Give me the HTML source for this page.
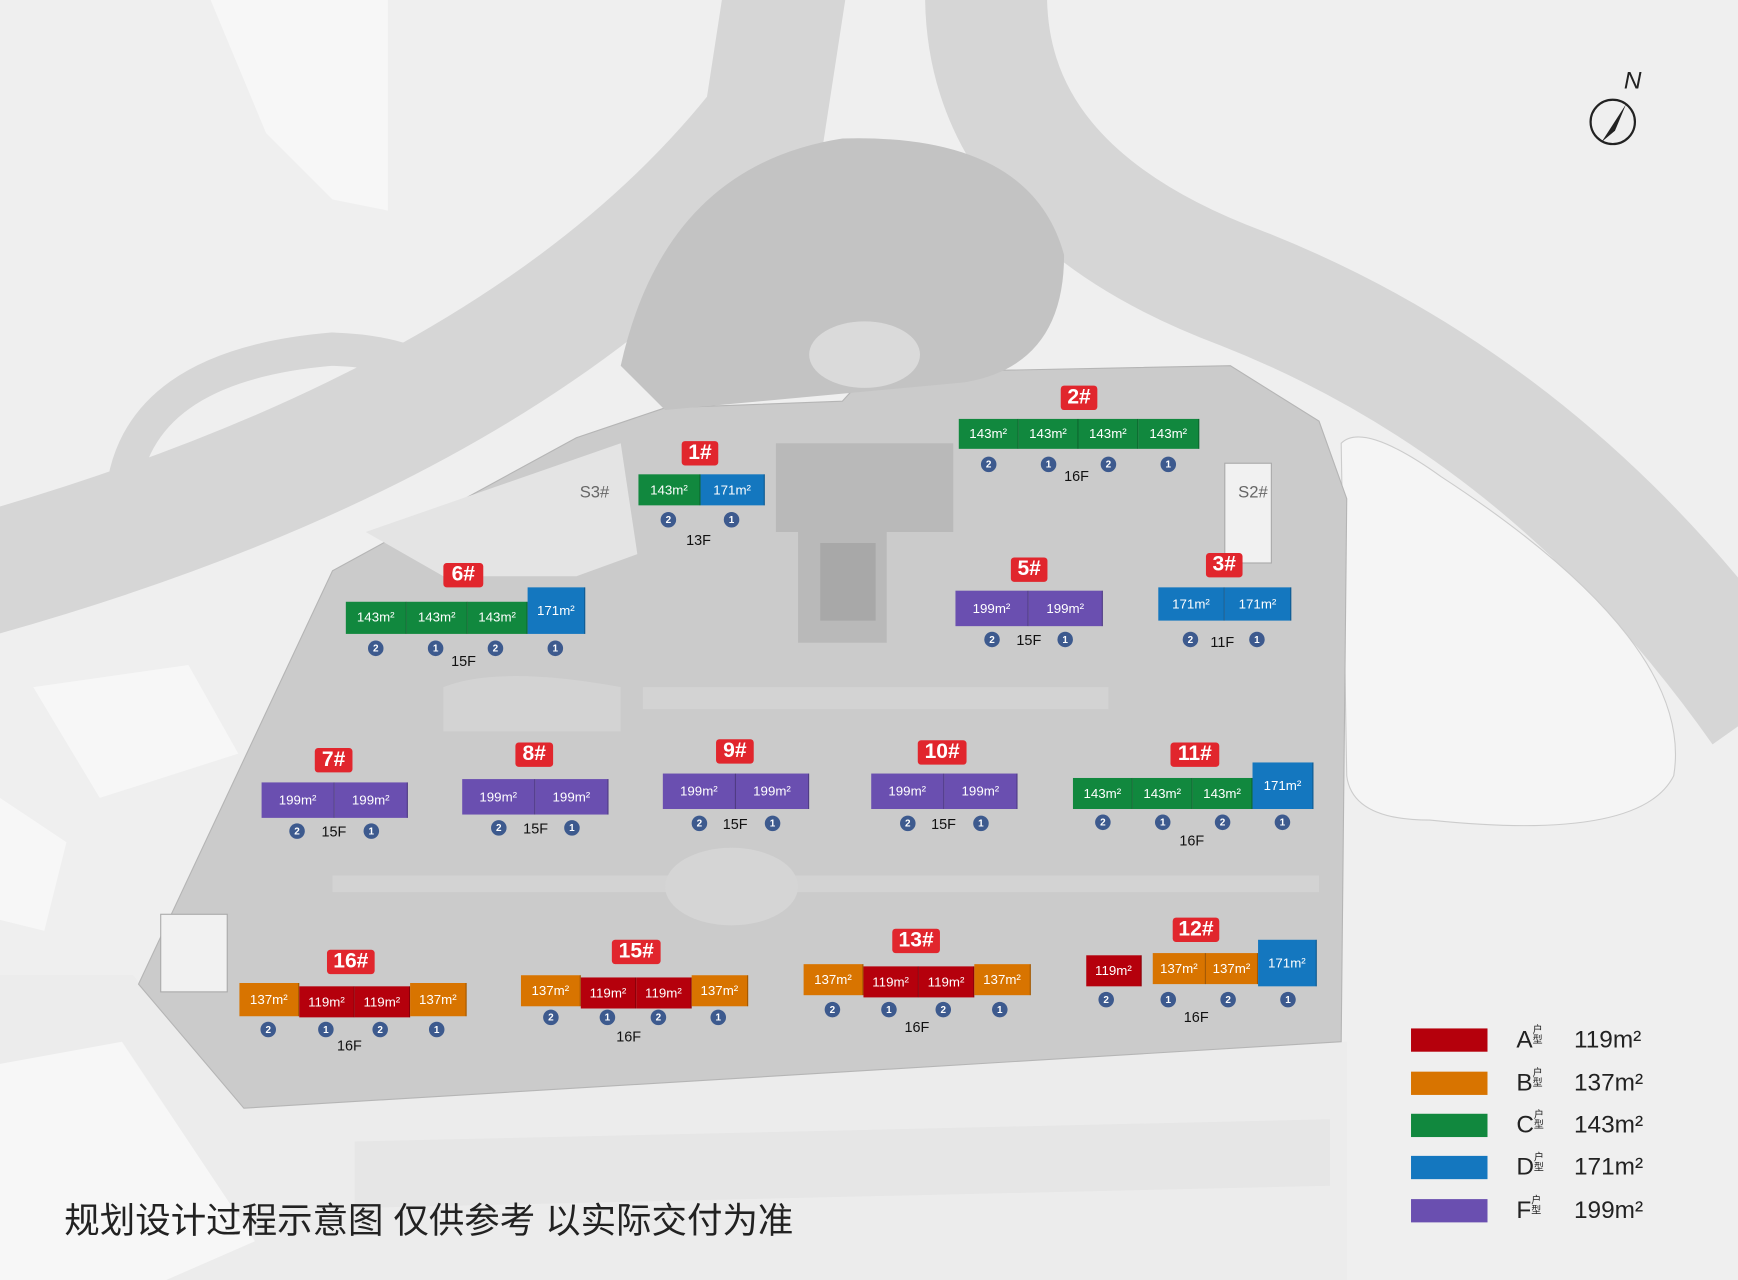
<!DOCTYPE html>
<html><head><meta charset="utf-8"><style>
html,body{margin:0;padding:0;width:1738px;height:1280px;overflow:hidden;background:#efefef}
#w{position:absolute;left:0;top:0;width:1568px;height:1155px;transform:scale(1.10842,1.10823);transform-origin:0 0;font-family:"Liberation Sans","Noto Sans CJK SC",sans-serif}
.a{position:absolute}
.u{position:absolute;color:#fff;font-size:12px;text-align:center;box-sizing:border-box;border-right:1px solid rgba(0,0,0,.25)}
.r{background:#b5000c}.o{background:#d87400}.g{background:#11883e}.b{background:#1477bf}.p{background:#6a4fb0}
.l{position:absolute;background:#e1262d;color:#fff;font-size:19px;font-weight:bold;text-align:center;border-radius:3px;line-height:22px;height:22px}
.c{position:absolute;width:14px;height:14px;border-radius:50%;background:#3d5a8e;color:#fff;font-size:9px;line-height:14px;text-align:center;font-weight:bold;margin-left:-7px;margin-top:-7px}
.f{position:absolute;font-size:13px;color:#111;margin-left:-12px}
.lg{position:absolute;left:1273px;width:69px;height:21px}
.lt{position:absolute;left:1368px;font-size:22px;color:#222}
.lt small{font-size:9px;vertical-align:top;display:inline-block;width:10px;line-height:9px}
.lt span{position:absolute;left:52px;white-space:nowrap}
</style></head><body><div id="w">
<svg class="a" style="left:0;top:0" width="1568" height="1155">
<rect width="1568" height="1155" fill="#efefef"/>
<path d="M-20,520 Q480,380 690,110 L710,-20" stroke="#d6d6d6" stroke-width="110" fill="none"/>
<path d="M890,-20 Q880,170 1120,260 Q1400,370 1590,640" stroke="#d6d6d6" stroke-width="110" fill="none"/>
<path d="M110,450 Q120,330 300,315 Q380,318 400,350" stroke="#d6d6d6" stroke-width="30" fill="none"/>
<path d="M1210,400 Q1230,380 1300,430 Q1530,580 1510,700 Q1480,760 1290,740 Q1220,740 1215,700 Z" fill="#f5f5f5" stroke="#ccc"/>
<path d="M0,880 L120,880 L220,1000 L1215,940 L1215,1155 L0,1155 Z" fill="#ececec"/>
<path d="M125,888 L300,515 L520,395 L600,368 L760,362 L780,340 L860,335 L1110,330 L1190,380 L1215,450 L1210,940 L220,1000 Z" fill="#cbcbcb" stroke="#b5b5b5"/>
<path d="M560,330 Q600,150 760,125 Q930,120 960,230 Q960,330 870,345 L600,370 Z" fill="#c3c3c3"/>
<ellipse cx="780" cy="320" rx="50" ry="30" fill="#dadada"/>
<path d="M700,400 L860,400 L860,480 L800,480 L800,580 L720,580 L720,480 L700,480 Z" fill="#b9b9b9"/>
<rect x="740" y="490" width="50" height="70" fill="#a8a8a8"/>
<path d="M330,480 L560,400 L575,500 L520,520 L400,520 Z" fill="#e4e4e4"/>
<rect x="1105" y="418" width="42" height="90" fill="#f1f1f1" stroke="#aaa"/>
<rect x="145" y="825" width="60" height="70" fill="#f1f1f1" stroke="#aaa"/>
<path d="M400,620 Q450,600 560,620 L560,660 L400,660 Z M300,790 L1190,790 L1190,805 L300,805 Z M580,620 L1000,620 L1000,640 L580,640 Z" fill="#d8d8d8" opacity=".6"/>
<ellipse cx="660" cy="800" rx="60" ry="35" fill="#d5d5d5"/>
<path d="M320,1030 L1200,1010 L1200,1070 L320,1090 Z" fill="#e6e6e6"/>
<path d="M190,0 L350,0 L350,190 L300,180 L240,120 Z M30,620 L170,600 L215,680 L90,720 Z M0,720 L60,760 L40,840 L0,830 Z M0,960 L110,940 L230,1120 L150,1155 L0,1155 Z" fill="#f7f7f7"/>
<g transform="translate(1455,110)"><circle r="20" fill="none" stroke="#222" stroke-width="2"/><path d="M-10,18 L12,-16 L2,8 Z" fill="#222"/><text x="10" y="-30" font-size="22" font-style="italic" fill="#222">N</text></g>
</svg>

<div class="l" style="left:615px;top:398px;width:33px">1#</div>
<div class="u g" style="left:576px;top:428px;width:56px;height:28px;line-height:28px">143m²</div>
<div class="u b" style="left:632px;top:428px;width:58px;height:28px;line-height:28px">171m²</div>
<div class="c" style="left:603px;top:469px">2</div><div class="c" style="left:660px;top:469px">1</div>
<div class="f" style="left:631px;top:480px">13F</div>

<div class="l" style="left:957px;top:348px;width:33px">2#</div>
<div class="u g" style="left:865px;top:378px;width:54px;height:27px;line-height:27px">143m²</div>
<div class="u g" style="left:919px;top:378px;width:54px;height:27px;line-height:27px">143m²</div>
<div class="u g" style="left:973px;top:378px;width:54px;height:27px;line-height:27px">143m²</div>
<div class="u g" style="left:1027px;top:378px;width:55px;height:27px;line-height:27px">143m²</div>
<div class="c" style="left:892px;top:419px">2</div><div class="c" style="left:946px;top:419px">1</div><div class="c" style="left:1000px;top:419px">2</div><div class="c" style="left:1054px;top:419px">1</div>
<div class="f" style="left:972px;top:422px">16F</div>

<div class="l" style="left:1088px;top:499px;width:33px">3#</div>
<div class="u b" style="left:1045px;top:530px;width:60px;height:30px;line-height:30px">171m²</div>
<div class="u b" style="left:1105px;top:530px;width:60px;height:30px;line-height:30px">171m²</div>
<div class="c" style="left:1074px;top:577px">2</div><div class="c" style="left:1134px;top:577px">1</div>
<div class="f" style="left:1104px;top:572px">11F</div>

<div class="l" style="left:912px;top:503px;width:33px">5#</div>
<div class="u p" style="left:862px;top:533px;width:66px;height:32px;line-height:32px">199m²</div>
<div class="u p" style="left:928px;top:533px;width:67px;height:32px;line-height:32px">199m²</div>
<div class="c" style="left:895px;top:577px">2</div><div class="c" style="left:961px;top:577px">1</div>
<div class="f" style="left:929px;top:570px">15F</div>

<div class="l" style="left:400px;top:508px;width:36px">6#</div>
<div class="u g" style="left:312px;top:543px;width:55px;height:29px;line-height:29px">143m²</div>
<div class="u g" style="left:367px;top:543px;width:55px;height:29px;line-height:29px">143m²</div>
<div class="u g" style="left:422px;top:543px;width:54px;height:29px;line-height:29px">143m²</div>
<div class="u b" style="left:476px;top:530px;width:52px;height:42px;line-height:42px">171m²</div>
<div class="c" style="left:339px;top:585px">2</div><div class="c" style="left:393px;top:585px">1</div><div class="c" style="left:447px;top:585px">2</div><div class="c" style="left:501px;top:585px">1</div>
<div class="f" style="left:419px;top:589px">15F</div>

<div class="l" style="left:284px;top:675px;width:34px">7#</div>
<div class="u p" style="left:236px;top:706px;width:66px;height:32px;line-height:32px">199m²</div>
<div class="u p" style="left:302px;top:706px;width:66px;height:32px;line-height:32px">199m²</div>
<div class="c" style="left:268px;top:750px">2</div><div class="c" style="left:335px;top:750px">1</div>
<div class="f" style="left:302px;top:743px">15F</div>

<div class="l" style="left:465px;top:670px;width:34px">8#</div>
<div class="u p" style="left:417px;top:703px;width:66px;height:32px;line-height:32px">199m²</div>
<div class="u p" style="left:483px;top:703px;width:66px;height:32px;line-height:32px">199m²</div>
<div class="c" style="left:450px;top:747px">2</div><div class="c" style="left:516px;top:747px">1</div>
<div class="f" style="left:484px;top:740px">15F</div>

<div class="l" style="left:646px;top:667px;width:34px">9#</div>
<div class="u p" style="left:598px;top:698px;width:66px;height:32px;line-height:32px">199m²</div>
<div class="u p" style="left:664px;top:698px;width:66px;height:32px;line-height:32px">199m²</div>
<div class="c" style="left:631px;top:743px">2</div><div class="c" style="left:697px;top:743px">1</div>
<div class="f" style="left:664px;top:736px">15F</div>

<div class="l" style="left:828px;top:668px;width:44px">10#</div>
<div class="u p" style="left:786px;top:698px;width:66px;height:32px;line-height:32px">199m²</div>
<div class="u p" style="left:852px;top:698px;width:66px;height:32px;line-height:32px">199m²</div>
<div class="c" style="left:819px;top:743px">2</div><div class="c" style="left:885px;top:743px">1</div>
<div class="f" style="left:852px;top:736px">15F</div>

<div class="l" style="left:1056px;top:670px;width:44px">11#</div>
<div class="u g" style="left:968px;top:702px;width:54px;height:28px;line-height:28px">143m²</div>
<div class="u g" style="left:1022px;top:702px;width:54px;height:28px;line-height:28px">143m²</div>
<div class="u g" style="left:1076px;top:702px;width:54px;height:28px;line-height:28px">143m²</div>
<div class="u b" style="left:1130px;top:688px;width:55px;height:42px;line-height:42px">171m²</div>
<div class="c" style="left:995px;top:742px">2</div><div class="c" style="left:1049px;top:742px">1</div><div class="c" style="left:1103px;top:742px">2</div><div class="c" style="left:1157px;top:742px">1</div>
<div class="f" style="left:1076px;top:751px">16F</div>

<div class="l" style="left:1058px;top:828px;width:42px">12#</div>
<div class="u r" style="left:980px;top:862px;width:50px;height:28px;line-height:28px">119m²</div>
<div class="u o" style="left:1040px;top:860px;width:48px;height:28px;line-height:28px">137m²</div>
<div class="u o" style="left:1088px;top:860px;width:47px;height:28px;line-height:28px">137m²</div>
<div class="u b" style="left:1135px;top:848px;width:53px;height:42px;line-height:42px">171m²</div>
<div class="c" style="left:998px;top:902px">2</div><div class="c" style="left:1054px;top:902px">1</div><div class="c" style="left:1108px;top:902px">2</div><div class="c" style="left:1162px;top:902px">1</div>
<div class="f" style="left:1080px;top:910px">16F</div>

<div class="l" style="left:805px;top:838px;width:43px">13#</div>
<div class="u o" style="left:725px;top:870px;width:54px;height:28px;line-height:28px">137m²</div>
<div class="u r" style="left:779px;top:872px;width:50px;height:28px;line-height:28px">119m²</div>
<div class="u r" style="left:829px;top:872px;width:50px;height:28px;line-height:28px">119m²</div>
<div class="u o" style="left:879px;top:870px;width:51px;height:28px;line-height:28px">137m²</div>
<div class="c" style="left:751px;top:911px">2</div><div class="c" style="left:802px;top:911px">1</div><div class="c" style="left:851px;top:911px">2</div><div class="c" style="left:902px;top:911px">1</div>
<div class="f" style="left:828px;top:919px">16F</div>

<div class="l" style="left:552px;top:848px;width:44px">15#</div>
<div class="u o" style="left:470px;top:880px;width:54px;height:28px;line-height:28px">137m²</div>
<div class="u r" style="left:524px;top:882px;width:50px;height:28px;line-height:28px">119m²</div>
<div class="u r" style="left:574px;top:882px;width:50px;height:28px;line-height:28px">119m²</div>
<div class="u o" style="left:624px;top:880px;width:51px;height:28px;line-height:28px">137m²</div>
<div class="c" style="left:497px;top:918px">2</div><div class="c" style="left:548px;top:918px">1</div><div class="c" style="left:594px;top:918px">2</div><div class="c" style="left:648px;top:918px">1</div>
<div class="f" style="left:568px;top:928px">16F</div>

<div class="l" style="left:295px;top:857px;width:43px">16#</div>
<div class="u o" style="left:216px;top:887px;width:54px;height:30px;line-height:30px">137m²</div>
<div class="u r" style="left:270px;top:890px;width:50px;height:28px;line-height:28px">119m²</div>
<div class="u r" style="left:320px;top:890px;width:50px;height:28px;line-height:28px">119m²</div>
<div class="u o" style="left:370px;top:887px;width:51px;height:30px;line-height:30px">137m²</div>
<div class="c" style="left:242px;top:929px">2</div><div class="c" style="left:294px;top:929px">1</div><div class="c" style="left:343px;top:929px">2</div><div class="c" style="left:394px;top:929px">1</div>
<div class="f" style="left:316px;top:936px">16F</div>

<div class="a" style="left:523px;top:436px;font-size:15px;color:#666">S3#</div>
<div class="a" style="left:1117px;top:436px;font-size:15px;color:#666">S2#</div>

<div class="lg r" style="top:928px"></div><div class="lg o" style="top:967px"></div><div class="lg g" style="top:1005px"></div><div class="lg b" style="top:1043px"></div><div class="lg p" style="top:1082px"></div>
<div class="lt" style="top:925px">A<small>户型</small><span>119m²</span></div>
<div class="lt" style="top:964px">B<small>户型</small><span>137m²</span></div>
<div class="lt" style="top:1002px">C<small>户型</small><span>143m²</span></div>
<div class="lt" style="top:1040px">D<small>户型</small><span>171m²</span></div>
<div class="lt" style="top:1079px">F<small>户型</small><span>199m²</span></div>

<div class="a" style="left:58px;top:1076px;font-size:32px;color:#222;white-space:nowrap">规划设计过程示意图 仅供参考 以实际交付为准</div>
</div></body></html>
